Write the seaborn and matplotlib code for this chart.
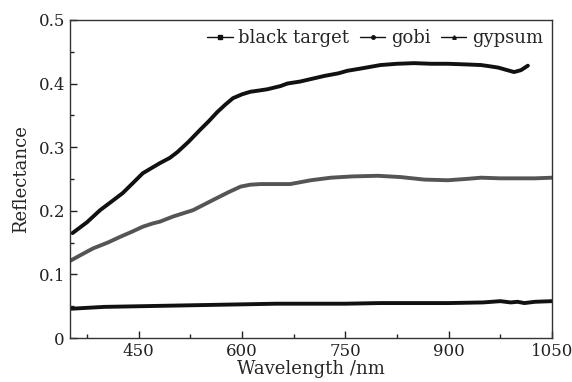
import matplotlib
matplotlib.use("Agg")
import matplotlib.pyplot as plt
import matplotlib.ticker as mticker
from matplotlib.lines import Line2D
import seaborn as sns
import pandas as pd

# ---- data ----
gypsum_nm = [354, 375, 394, 410, 427, 442, 456, 470, 481, 495, 506, 522, 539, 552, 564, 576,
             587, 600, 612, 625, 637, 656, 666, 684, 700, 720, 740, 753, 775, 801, 825, 850,
             875, 899, 925, 947, 960, 972, 985, 995, 1005, 1015]
gypsum_r = [0.165, 0.182, 0.201, 0.214, 0.228, 0.244, 0.259, 0.268, 0.275, 0.283, 0.292, 0.308,
            0.327, 0.341, 0.355, 0.367, 0.377, 0.383, 0.387, 0.389, 0.391, 0.396, 0.400, 0.403,
            0.407, 0.412, 0.416, 0.420, 0.424, 0.429, 0.431, 0.432, 0.431, 0.431, 0.430, 0.429,
            0.427, 0.425, 0.421, 0.418, 0.421, 0.428]

gobi_nm = [350, 365, 384, 405, 423, 440, 456, 470, 481, 500, 529, 558, 580, 598, 612, 627,
           645, 670, 685, 700, 729, 760, 797, 830, 865, 899, 925, 947, 975, 1000, 1025, 1050]
gobi_r = [0.121, 0.130, 0.141, 0.150, 0.159, 0.167, 0.175, 0.180, 0.183, 0.191, 0.201, 0.217,
          0.229, 0.238, 0.241, 0.242, 0.242, 0.242, 0.245, 0.248, 0.252, 0.254, 0.255, 0.253,
          0.249, 0.248, 0.250, 0.252, 0.251, 0.251, 0.251, 0.252]

black_nm = [350, 400, 450, 500, 550, 600, 650, 700, 750, 800, 850, 900, 950, 975, 990, 1000,
            1010, 1025, 1050]
black_r = [0.046, 0.049, 0.050, 0.051, 0.052, 0.053, 0.054, 0.054, 0.054, 0.055, 0.055, 0.055,
           0.056, 0.058, 0.056, 0.057, 0.055, 0.057, 0.058]

labels = ["black target", "gobi", "gypsum"]
colors = {"black target": "#111111", "gobi": "#555555", "gypsum": "#111111"}
markers = {"black target": "s", "gobi": "o", "gypsum": "^"}

df = pd.concat([
    pd.DataFrame({"Wavelength": black_nm, "Reflectance": black_r, "Sample": "black target"}),
    pd.DataFrame({"Wavelength": gobi_nm, "Reflectance": gobi_r, "Sample": "gobi"}),
    pd.DataFrame({"Wavelength": gypsum_nm, "Reflectance": gypsum_r, "Sample": "gypsum"}),
], ignore_index=True)

sns.set_style("white")
plt.rcParams["font.family"] = ["DejaVu Serif"]
plt.rcParams["mathtext.fontset"] = "dejavuserif"

fig = plt.figure(figsize=(5.72, 3.82), dpi=100)
ax = fig.add_axes([0.122, 0.115, 0.843, 0.833])

sns.lineplot(data=df, x="Wavelength", y="Reflectance", hue="Sample", palette=colors,
             linewidth=2.8, legend=False, ax=ax, estimator=None, sort=True)

ax.set_xlim(350, 1050)
ax.set_ylim(0, 0.5)
ax.xaxis.set_major_locator(mticker.FixedLocator([450, 600, 750, 900, 1050]))
ax.xaxis.set_minor_locator(mticker.MultipleLocator(75))
ax.yaxis.set_major_locator(mticker.MultipleLocator(0.1))
ax.yaxis.set_minor_locator(mticker.MultipleLocator(0.05))
ax.yaxis.set_major_formatter(mticker.FuncFormatter(lambda v, p: "0" if abs(v) < 1e-9 else f"{v:.1f}"))
ax.tick_params(which="both", direction="in", left=True, bottom=True, top=False, right=False,
               labelsize=12, colors="#222222")
ax.tick_params(which="major", length=5, width=1)
ax.tick_params(which="minor", length=3, width=1)
for s in ax.spines.values():
    s.set_color("#333333")
    s.set_linewidth(1.0)

ax.set_xlabel("Wavelength /nm", fontsize=13, labelpad=0)
ax.set_ylabel("Reflectance", fontsize=13, labelpad=6)

handles = [Line2D([0], [0], color="#111111", lw=1.0, marker=markers[l], markersize=2.5)
           for l in labels]
ax.legend(handles, labels, loc="upper right", ncol=3, frameon=False, fontsize=13,
          handlelength=1.4, handletextpad=0.3, columnspacing=0.6,
          borderaxespad=0.1, bbox_to_anchor=(1.0, 1.0))

fig.savefig("out.png", dpi=100)
